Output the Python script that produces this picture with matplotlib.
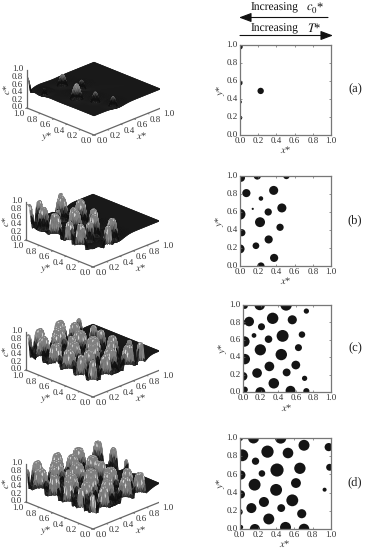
import numpy as np
import matplotlib
matplotlib.use("Agg")
import matplotlib.pyplot as plt
from matplotlib.patches import Circle
from mpl_toolkits.mplot3d import proj3d

plt.rcParams["font.family"] = ["Liberation Serif", "DejaVu Serif"]
plt.rcParams["mathtext.fontset"] = "stix"
plt.rcParams["text.hinting"] = "no_hinting"

W, H = 365, 550

# droplets: centre x*, centre y*, radius
xs_a = [0.227, 0.0, 0.0, 0.0, 0.0]
ys_a = [0.487, 0.975, 0.575, 0.365, 0.19]
rs_a = [0.035, 0.03, 0.028, 0.02, 0.024]

xs_b = [0.01, 0.19, 0.51, 0.07, 0.37, 0.23, 0.14, 0.31, 0.46, 0.0, 0.22, 0.44, 0.02, 0.315, 0.0, 0.175, 0.375, 0.23]
ys_b = [0.98, 1.0, 1.0, 0.81, 0.84, 0.75, 0.635, 0.6, 0.645, 0.575, 0.487, 0.43, 0.37, 0.295, 0.19, 0.225, 0.09, 0.0]
rs_b = [0.045, 0.04, 0.035, 0.045, 0.05, 0.025, 0.012, 0.04, 0.05, 0.06, 0.055, 0.04, 0.04, 0.045, 0.05, 0.037, 0.045, 0.04]

xs_c = [0.02, 0.19, 0.49, 0.72, 0.07, 0.0, 0.337, 0.21, 0.56, 0.125, 0.015, 0.29, 0.45, 0.67, 0.197, 0.435, 0.63, 0.02, 0.3, 0.6, 0.496, 0.16, 0.0, 0.35, 0.7, 0.02, 0.197, 0.54, 0.72]
ys_c = [0.99, 1.0, 1.0, 0.93, 0.81, 0.8, 0.847, 0.75, 0.83, 0.65, 0.58, 0.607, 0.645, 0.66, 0.485, 0.43, 0.51, 0.378, 0.294, 0.31, 0.225, 0.218, 0.18, 0.1, 0.157, 0.027, 0.0, 0.015, 0.01]
rs_c = [0.035, 0.06, 0.065, 0.03, 0.055, 0.03, 0.065, 0.04, 0.052, 0.027, 0.06, 0.043, 0.068, 0.037, 0.064, 0.065, 0.04, 0.06, 0.055, 0.05, 0.045, 0.055, 0.05, 0.06, 0.03, 0.035, 0.056, 0.056, 0.035]

xs_d = [0.015, 0.153, 0.45, 0.705, 0.975, 0.03, 0.306, 0.53, 0.175, 0.245, 0.015, 0.41, 0.66, 0.985, 0.165, 0.4, 0.617, 0.93, 0.015, 0.267, 0.577, 0.13, 0.456, 0.0, 0.32, 0.68, 0.015, 0.168, 0.503, 0.705]
ys_d = [0.99, 1.0, 1.0, 0.92, 0.9, 0.81, 0.85, 0.835, 0.745, 0.61, 0.593, 0.648, 0.667, 0.678, 0.487, 0.43, 0.505, 0.432, 0.38, 0.297, 0.315, 0.23, 0.23, 0.187, 0.11, 0.168, 0.02, 0.0, 0.018, 0.0]
rs_d = [0.02, 0.06, 0.062, 0.06, 0.045, 0.065, 0.067, 0.058, 0.04, 0.036, 0.05, 0.072, 0.062, 0.038, 0.065, 0.065, 0.054, 0.022, 0.045, 0.055, 0.065, 0.055, 0.043, 0.035, 0.06, 0.05, 0.025, 0.055, 0.06, 0.058]

# small peaks of the surface in (a), they sit where the droplets of (b) come later
xs_a3d = [0.0, 0.37, 0.227, 0.46, 0.315, 0.375, 0.07]
ys_a3d = [1.0, 0.84, 0.487, 0.645, 0.295, 0.09, 0.81]
rs_a3d = [0.035, 0.045, 0.05, 0.04, 0.04, 0.04, 0.03]
hs_a3d = [0.82, 0.74, 0.84, 0.66, 0.7, 0.68, 0.6]

ticks = [0.0, 0.2, 0.4, 0.6, 0.8, 1.0]
panels = ["(a)", "(b)", "(c)", "(d)"]

BASE = 0.5
GREY = "#666666"
TXT = "#333333"


def make_surface(xs, ys, rs, hs, power=5, dip_h=0.17):
    g = np.linspace(0, 1, 100)
    X, Y = np.meshgrid(g, g)
    peak = np.zeros_like(X)
    dip = np.zeros_like(X)
    for x0, y0, r, h in zip(xs, ys, rs, hs):
        d = np.hypot(X - x0, Y - y0) / (r * 1.4)
        peak = np.maximum(peak, h / (1 + d**power))
        dip = np.maximum(dip, dip_h * np.exp(-(d / 2.0) ** 2))
    return X, Y, np.maximum(BASE - dip, peak)


def surface_colours(Z):
    # nearly black flat part, grey peaks with the dotted mesh on top
    gy, gx = np.gradient(Z)
    g = 0.1 + 0.38 * np.clip((Z - BASE - 0.04) / 0.14, 0, 1)
    g = g + np.clip(-(gx + gy) * 2.5, -0.05, 0.08) * (Z > BASE - 0.12)
    ii, jj = np.indices(Z.shape)
    top = Z > 0.72
    g = np.where(top, 0.5, g)
    g = np.where(top & (ii % 3 == 0) & (jj % 3 == 0), 0.9, g)
    g = np.clip(g, 0.06, 0.9)
    return np.dstack([g, g, g, np.ones_like(g)])


def project(ax, x, y, z):
    ax.apply_aspect()
    px, py, _ = proj3d.proj_transform(x, y, z, ax.get_proj())
    return ax.transData.transform((px, py))


def place_axes(ax, ox, oy):
    # scale and move the 3d axes so the front corner falls on (ox, oy) in image pixels
    pos = ax.get_position()
    size = pos.width * W
    a = project(ax, 0, 0, 0)
    b = project(ax, 1, 0, 0)
    size = size * 67 / (b[0] - a[0])
    ax.set_position([0.1, 0.1, size / W, size / H])
    a = project(ax, 0, 0, 0)
    left = (0.1 * W + ox - a[0]) / W
    bottom = (0.1 * H + (H - oy) - a[1]) / H
    ax.set_position([left, bottom, size / W, size / H])


def label_3d(ax, x, y, z, s, **kw):
    # 3d position, but a plain figure text so it is laid out like the rest
    px, py = project(ax, x, y, z)
    fig.text(px / W, py / H, s, va="center", color=TXT, **kw)


def draw_3d(ox, oy, X, Y, Z):
    ax = fig.add_axes([0.1, 0.1, 300 / W, 300 / H], projection="3d", proj_type="ortho")
    ax.view_init(elev=23.76, azim=-135)
    ax.set_box_aspect((1, 1, 0.438))
    ax.set_axis_off()
    ax.computed_zorder = False
    ax.patch.set_alpha(0)
    ax.plot_surface(X, Y, Z, facecolors=surface_colours(Z), rstride=1, cstride=1,
                    shade=False, linewidth=0.25, antialiased=True, zorder=1)
    ax.set_xlim(0, 1)
    ax.set_ylim(0, 1)
    ax.set_zlim(0, 1)
    ax.plot([0, 0, 1], [1, 0, 0], [0, 0, 0], color=GREY, lw=0.9, zorder=2)
    ax.plot([0, 0], [1, 1], [0, 1], color=GREY, lw=0.9, zorder=2)
    for t in ticks:
        ax.plot([t, t], [0, -0.02], [0, 0], color=GREY, lw=0.6, zorder=2)
        ax.plot([0, -0.02], [t, t], [0, 0], color=GREY, lw=0.6, zorder=2)
    place_axes(ax, ox, oy)
    for t in ticks:
        lab = f"{t:.1f}"
        label_3d(ax, t - 0.07, -0.19, 0, lab, ha="center", fontsize=6.5)
        label_3d(ax, -0.19, t - 0.07, 0, lab, ha="center", fontsize=6.5)
        label_3d(ax, -0.03, 1.03, t, lab, ha="right", fontsize=6.5)
    label_3d(ax, 0.35, -0.37, 0, "$x$*", ha="center", fontsize=7.5)
    label_3d(ax, -0.38, 0.33, 0, "$y$*", ha="center", fontsize=7.5)
    label_3d(ax, -0.15, 1.15, 0.5, "$c$*", ha="center", fontsize=7.5, rotation=90)


def draw_map(box, xs, ys, rs, letter, ylab_x, lab_y, letter_y):
    x0, x1, y0, y1 = box
    ax = fig.add_axes([x0 / W, 1 - y1 / H, (x1 - x0) / W, (y1 - y0) / H])
    for x, y, r in zip(xs, ys, rs):
        ax.add_patch(Circle((x, y), r, color="#141414", lw=0))
    ax.set_xlim(0, 1)
    ax.set_ylim(0, 1)
    ax.set_xticks(ticks)
    ax.set_yticks(ticks)
    ax.set_xticklabels([f"{t:.1f}" for t in ticks])
    ax.set_yticklabels([f"{t:.1f}" for t in ticks])
    ax.tick_params(direction="in", length=1.5, width=0.5, labelsize=6.5,
                   color=GREY, labelcolor=TXT, top=True, right=True)
    ax.tick_params(axis="x", pad=2)
    ax.tick_params(axis="y", pad=1.5)
    for s in ax.spines.values():
        s.set_color("#777777")
        s.set_linewidth(0.9)
    fig.text((x0 + x1) / 2 / W, 1 - lab_y / H, "$x$*", ha="center", va="center", fontsize=7.5, color=TXT)
    fig.text(ylab_x / W, 1 - (y0 + y1) / 2 / H, "$y$*", ha="center", va="center", fontsize=7.5,
             rotation=90, color=TXT)
    fig.text(355 / W, 1 - letter_y / H, letter, ha="center", va="center", fontsize=9, color="#222222")


def header_arrow(x_from, x_to, y):
    ax_top.annotate("", xy=(x_to, y), xytext=(x_from, y),
                    arrowprops=dict(arrowstyle="-|>,head_length=0.75,head_width=0.28", color="#111111",
                                    lw=0.8, shrinkA=0, shrinkB=0))


fig = plt.figure(figsize=(W / 100, H / 100), dpi=100)

# 3d surfaces on the left
heights_b = [min(0.97, 0.62 + 7.0 * r) for r in rs_b]
heights_c = [min(0.95, 0.7 + 6.0 * r) for r in rs_c]
heights_d = [min(0.97, 0.72 + 6.0 * r) for r in rs_d]
draw_3d(94, 135, *make_surface(xs_a3d, ys_a3d, rs_a3d, hs_a3d, power=2.5, dip_h=0.08))
draw_3d(93, 267, *make_surface(xs_b, ys_b, rs_b, heights_b))
draw_3d(93, 397, *make_surface(xs_c, ys_c, rs_c, heights_c))
draw_3d(93, 529, *make_surface(xs_d, ys_d, rs_d, heights_d))

# droplet maps on the right
draw_map((240, 331, 44.5, 135), xs_a, ys_a, rs_a, panels[0], 221, 150, 88)
draw_map((240, 331, 176, 266), xs_b, ys_b, rs_b, panels[1], 220, 281, 220)
draw_map((243, 331, 305, 392), xs_c, ys_c, rs_c, panels[2], 223, 408, 347)
draw_map((239.5, 331, 438, 529), xs_d, ys_d, rs_d, panels[3], 221, 544, 482)

# header with the two arrows, in image pixels
ax_top = fig.add_axes([0, 0, 1, 1], facecolor="none")
ax_top.set_xlim(0, W)
ax_top.set_ylim(H, 0)
ax_top.axis("off")
ax_top.text(250.5, 8, "Increasing", fontsize=8.3, ha="left", va="center", color="#111111")
ax_top.text(306, 8, "$c_0$*", fontsize=9, ha="left", va="center", color="#111111")
ax_top.text(250.5, 29, "Increasing", fontsize=8.3, ha="left", va="center", color="#111111")
ax_top.text(307, 29, "$T$*", fontsize=9, ha="left", va="center", color="#111111")
header_arrow(328, 239, 17.5)
header_arrow(240, 333, 35.5)

fig.savefig("out.png", dpi=100)
